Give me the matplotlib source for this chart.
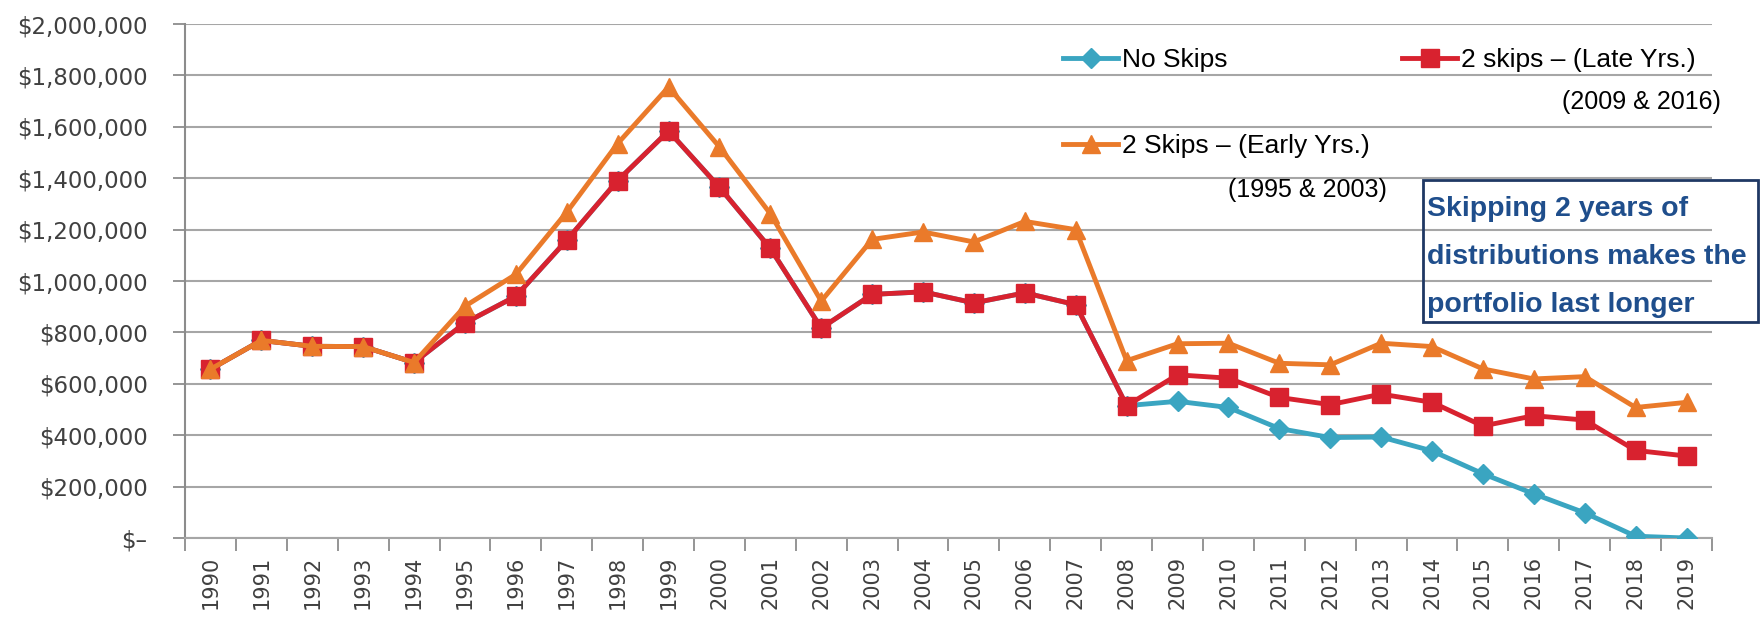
import matplotlib.pyplot as plt
from matplotlib.patches import Rectangle
from matplotlib.ticker import FuncFormatter

years = [str(y) for y in range(1990, 2020)]

# portfolio value at year end, dollars
no_skips = [657000, 769000, 746000, 745000, 683000, 837000, 941000, 1159000, 1391000, 1584000,
            1365000, 1127000, 817000, 948000, 958000, 915000, 954000, 908000, 515000, 532000,
            508000, 426000, 391000, 393000, 339000, 250000, 172000, 98000, 7000, 0]
late_skips = [657000, 769000, 746000, 745000, 683000, 837000, 941000, 1159000, 1391000, 1584000,
              1365000, 1127000, 817000, 948000, 958000, 915000, 954000, 908000, 515000, 635000,
              622000, 547000, 519000, 560000, 528000, 436000, 476000, 459000, 341000, 319000]
early_skips = [657000, 769000, 746000, 745000, 683000, 902000, 1026000, 1268000, 1535000, 1755000,
               1522000, 1262000, 922000, 1162000, 1191000, 1152000, 1232000, 1200000, 690000, 756000,
               758000, 680000, 674000, 758000, 745000, 658000, 619000, 628000, 508000, 528000]

blue = '#3aa5c1'
red = '#d8222f'
orange = '#ea7a2a'
grey_txt = '#404040'

fig = plt.figure(figsize=(17.62, 6.17), dpi=100)
ax = fig.add_axes([0.105, 0.128, 0.8666, 0.833])

x = list(range(len(years)))
l_none, = ax.plot(x, no_skips, '-D', color=blue, lw=3.5, ms=10, label='No Skips', zorder=3)
l_late, = ax.plot(x, late_skips, '-s', color=red, lw=3.5, ms=13, label='2 skips – (Late Yrs.)', zorder=4)
l_early, = ax.plot(x, early_skips, '-^', color=orange, lw=3.5, ms=13, label='2 Skips – (Early Yrs.)', zorder=5)

ax.set_xlim(-0.5, len(years) - 0.5)
ax.set_ylim(0, 2000000)
ax.set_yticks(range(0, 2000001, 200000))
ax.yaxis.set_major_formatter(FuncFormatter(lambda v, p: '$–' if v == 0 else '${:,.0f}'.format(v)))
ax.grid(axis='y', color='#a6a6a6', lw=1.5)
ax.set_axisbelow(True)

# ticks between years, labels centred on years
ax.set_xticks([i - 0.5 for i in range(len(years) + 1)])
ax.set_xticklabels([])
ax.set_xticks(x, minor=True)
ax.set_xticklabels(years, minor=True, rotation=90, fontsize=15, color=grey_txt)
ax.tick_params(axis='x', which='major', length=9, width=1.3, color='#8c8c8c')
ax.tick_params(axis='x', which='minor', length=0, pad=13)
ax.tick_params(axis='y', length=9, width=1.3, color='#8c8c8c', pad=18, labelsize=16.5, labelcolor=grey_txt)

for s in ['top', 'right']:
    ax.spines[s].set_visible(False)
ax.spines['left'].set_color('#8c8c8c')
ax.spines['left'].set_linewidth(1.5)
ax.spines['bottom'].set_color('#a6a6a6')
ax.spines['bottom'].set_linewidth(1.5)

leg_kw = dict(frameon=False, borderpad=0, borderaxespad=0, handlelength=2.1, handletextpad=0.15,
              loc='center left', prop={'family': 'Liberation Sans', 'size': 19})
leg1 = ax.legend(handles=[l_none], bbox_to_anchor=(0.575, 0.93), **leg_kw)
ax.add_artist(leg1)
leg2 = ax.legend(handles=[l_late], bbox_to_anchor=(0.797, 0.93), **leg_kw)
ax.add_artist(leg2)
ax.legend(handles=[l_early], bbox_to_anchor=(0.575, 0.762), **leg_kw)

ax.text(1.006, 0.848, '(2009 & 2016)', transform=ax.transAxes, ha='right', va='center',
        family='Liberation Sans', fontsize=18, color='black')
ax.text(0.787, 0.678, '(1995 & 2003)', transform=ax.transAxes, ha='right', va='center',
        family='Liberation Sans', fontsize=18, color='black')

# callout box
fig.patches.append(Rectangle((1423 / 1762, 1 - 322 / 617), 335 / 1762, 142 / 617,
                             transform=fig.transFigure, fill=False,
                             edgecolor='#1f3864', lw=2, zorder=10))
fig.text(1427 / 1762, 1 - 196 / 617,
         'Skipping 2 years of\ndistributions makes the\nportfolio last longer',
         ha='left', va='top', family='Liberation Sans', fontweight='bold', fontsize=20.5,
         color='#1f4e8c', linespacing=2.1, zorder=11)

fig.savefig('out.png', dpi=100)
